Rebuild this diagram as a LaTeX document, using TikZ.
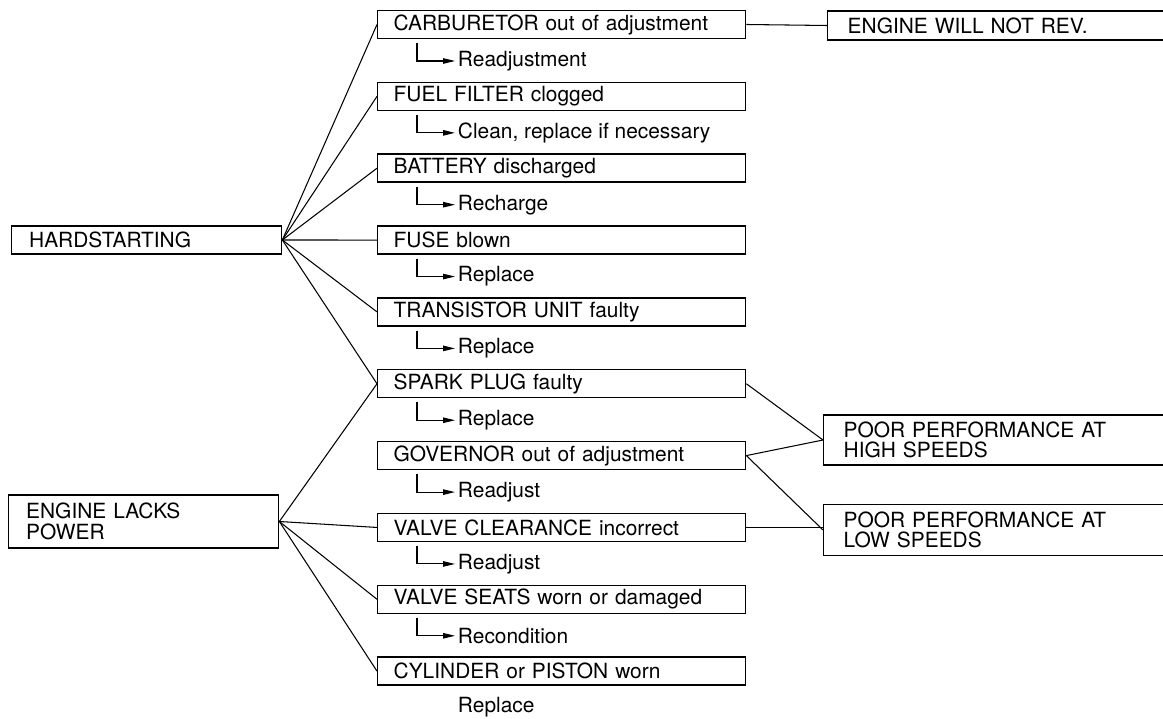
\documentclass[tikz,border=0pt]{standalone}
\usepackage{fontspec}
\setmainfont{TeX Gyre Heros}
\usetikzlibrary{positioning, arrows.meta}

\begin{document}
\begin{tikzpicture}[x=0.02cm, y=-0.02cm, font=\fontsize{11.9}{11.8}\selectfont]
  \tikzstyle{box} = [rectangle, draw=black, line width=0.8pt, align=left, inner ysep=0pt]
  \tikzstyle{cause} = [box, anchor=west, minimum width=7.36cm, minimum height=0.56cm,
    text width=6.72cm, inner xsep=0.32cm]
  \tikzstyle{symptom} = [box, anchor=west, minimum width=5.4cm, text width=4.7cm, inner xsep=0.35cm]
  \tikzstyle{result} = [box, anchor=west, minimum width=7.2cm, text width=6.4cm, inner xsep=0.36cm]
  \tikzstyle{fix} = [anchor=west, inner xsep=1.5pt, inner ysep=0pt]
  \tikzstyle{link} = [line width=0.6pt]
  \tikzstyle{tip} = [line width=0.6pt, -{Triangle[length=0.24cm, width=0.11cm]}]

  \useasboundingbox (0,0) rectangle (1163,719);
  \clip (0,0) rectangle (1163,719);

  % Columna central: causas
  \foreach \txt [count=\i] in {CARBURETOR out of adjustment, FUEL FILTER clogged,
      BATTERY discharged, FUSE blown, TRANSISTOR UNIT faulty, SPARK PLUG faulty,
      GOVERNOR out of adjustment, VALVE CLEARANCE incorrect,
      VALVE SEATS worn or damaged, CYLINDER or PISTON worn}
    \node[cause] (c\i) at (377, \i*71.85-47.35) {\txt};

  % Remedios
  \foreach \txt [count=\i] in {Readjustment, {Clean, replace if necessary}, Recharge,
      Replace, Replace, Replace, Readjust, Readjust, Recondition}
  {
    \node[fix] (r\i) at (455, \i*71.85-10.85) {\txt};
    \draw[tip] ([xshift=0.8cm, yshift=-0.08cm]c\i.south west) |- (r\i.west);
  }
  \node[fix] (r10) at (455, 707) {Replace};

  % Sintomas
  \node[symptom, minimum height=0.56cm] (hard) at (11, 240) {HARDSTARTING};
  \node[symptom, minimum height=1.06cm] (power) at (8, 521.5) {ENGINE LACKS\\POWER};

  % Resultados
  \node[result, minimum height=0.58cm] (norev) at (827, 25.5) {ENGINE WILL NOT REV.};
  \node[result, minimum height=1.0cm] (high) at (823, 440) {POOR PERFORMANCE AT\\HIGH SPEEDS};
  \node[result, minimum height=1.02cm] (low) at (823, 530) {POOR PERFORMANCE AT\\LOW SPEEDS};

  % Conexiones
  \foreach \i in {1,...,6} \draw[link] (hard.east) -- (c\i.west);
  \foreach \i in {6,8,9,10} \draw[link] (power.east) -- (c\i.west);
  \draw[link] (c1.east) -- (norev.west);
  \draw[link] (c6.east) -- (high.west);
  \draw[link] (c7.east) -- (high.west);
  \draw[link] (c7.east) -- (low.west);
  \draw[link] (c8.east) -- (c8.east -| low.west);
\end{tikzpicture}
\end{document}
